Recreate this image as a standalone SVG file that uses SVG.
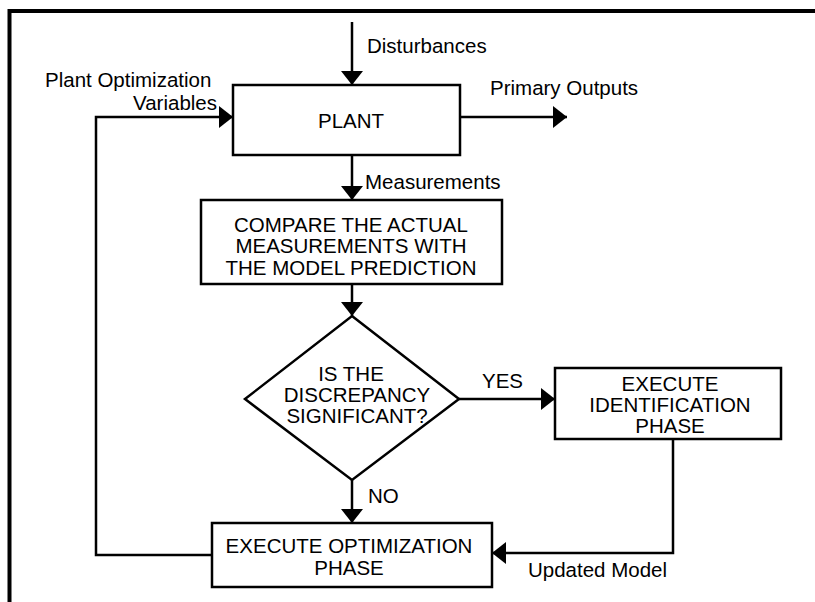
<svg xmlns="http://www.w3.org/2000/svg" width="815" height="602" viewBox="0 0 815 602">
<style>
  .box { fill: #fff; stroke: #000; stroke-width: 2.5; }
  .ln { fill: none; stroke: #000; stroke-width: 2.5; }
  .t { font-family: "Liberation Sans", Arial, Helvetica, sans-serif; font-size: 20.5px; fill: #000; }
  .c { text-anchor: middle; }
</style>
<defs>
  <marker id="ah" viewBox="0 0 14 22" refX="14" refY="11" markerWidth="14" markerHeight="22" markerUnits="userSpaceOnUse" orient="auto">
    <path d="M0,0 L14,11 L0,22 Z" fill="#000"/>
  </marker>
</defs>
<rect width="815" height="602" fill="#fff"/>
<g id="frame">
  <path d="M9.5,602 L9.5,11 L815,11" fill="none" stroke="#000" stroke-width="4"/>
</g>
<g id="connectors">
  <path class="ln" d="M352,22 L352,85" marker-end="url(#ah)"/>
  <path class="ln" d="M460,117 L567,117" marker-end="url(#ah)"/>
  <path class="ln" d="M212,555 L96,555 L96,117 L233,117" marker-end="url(#ah)"/>
  <path class="ln" d="M352,155 L352,200" marker-end="url(#ah)"/>
  <path class="ln" d="M352,284 L352,316" marker-end="url(#ah)"/>
  <path class="ln" d="M459,399 L555,399" marker-end="url(#ah)"/>
  <path class="ln" d="M352,480 L352,523" marker-end="url(#ah)"/>
  <path class="ln" d="M673,439 L673,553 L492,553" marker-end="url(#ah)"/>
  <text class="t" x="367" y="53">Disturbances</text>
  <text class="t" x="490" y="95">Primary Outputs</text>
  <text class="t" x="45" y="87">Plant Optimization</text>
  <text class="t" x="217" y="110" text-anchor="end">Variables</text>
  <text class="t" x="365" y="189">Measurements</text>
  <text class="t" x="482" y="388">YES</text>
  <text class="t" x="368" y="503">NO</text>
  <text class="t" x="528" y="577">Updated Model</text>
</g>
<g id="plant">
  <rect class="box" x="233" y="85" width="227" height="70"/>
  <text class="t c" x="351" y="128">PLANT</text>
</g>
<g id="compare">
  <rect class="box" x="201" y="200" width="301" height="84"/>
  <text class="t c" x="351" y="232">COMPARE THE ACTUAL</text>
  <text class="t c" x="351" y="253">MEASUREMENTS WITH</text>
  <text class="t c" x="351" y="275">THE MODEL PREDICTION</text>
</g>
<g id="decision">
  <path class="box" d="M352,316 L459,399 L352,480 L245,399 Z"/>
  <text class="t c" x="351" y="381">IS THE</text>
  <text class="t c" x="357" y="402">DISCREPANCY</text>
  <text class="t c" x="357" y="423">SIGNIFICANT?</text>
</g>
<g id="identification">
  <rect class="box" x="555" y="368" width="226" height="71"/>
  <text class="t c" x="670" y="391">EXECUTE</text>
  <text class="t c" x="670" y="412">IDENTIFICATION</text>
  <text class="t c" x="670" y="433">PHASE</text>
</g>
<g id="optimization">
  <rect class="box" x="212" y="523" width="280" height="64"/>
  <text class="t c" x="349" y="553">EXECUTE OPTIMIZATION</text>
  <text class="t c" x="349" y="575">PHASE</text>
</g>
</svg>
